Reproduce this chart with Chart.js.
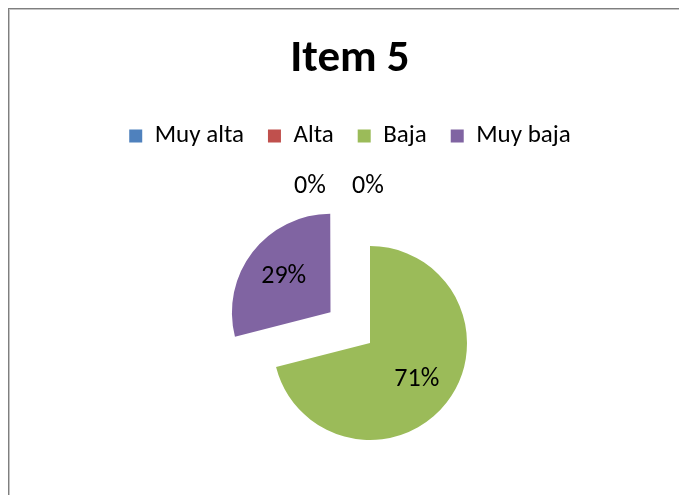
<!DOCTYPE html>
<html lang="es">
<head>
    <meta charset="UTF-8">
    <script src="https://cdn.jsdelivr.net/npm/chart.js@4/dist/chart.umd.min.js"></script>
    <title>Item 5</title>
    <style>
        html, body { margin: 0; padding: 0; background: #fff; overflow: hidden; width: 679px; height: 495px; }
        .frame {
            position: absolute; left: 8px; top: 8px; width: 800px; height: 600px;
            border-top: 1px solid #7f7f7f; border-left: 1px solid #7f7f7f;
            box-shadow: inset 1px 1px 0 #c4c4c4;
        }
        #chart { position: absolute; left: 8px; top: 8px; }
    </style>
</head>
<body>
    <div class="frame"></div>
    <canvas id="chart" width="684" height="560"></canvas>

    <script>
const labels = ['Muy alta', 'Alta', 'Baja', 'Muy baja'];
const values = [0, 0, 71, 29];
const colors = ['#4F81BD', '#C0504D', '#9BBB59', '#8064A2'];
const explode = [0, 0, 0, 200];   // purple slice pulled out

const FONT = "Carlito, Lato, 'Open Sans', sans-serif";
const shiftX = 20;   // pie sits a bit right of the title centre

// shift pie and write the percent labels like excel does
const pieLabels = {
    id: 'pieLabels',
    beforeDatasetsDraw(chart) {
        chart.ctx.save();
        chart.ctx.translate(shiftX, 0);
    },
    afterDatasetsDraw(chart) {
        const ctx = chart.ctx;
        const meta = chart.getDatasetMeta(0);
        const total = values.reduce((a, b) => a + b, 0);
        ctx.font = '26px ' + FONT;
        ctx.fillStyle = '#000';
        ctx.textAlign = 'center';
        ctx.textBaseline = 'middle';
        let zeroIdx = 0;
        meta.data.forEach((arc, i) => {
            const pct = Math.round(values[i] / total * 100) + '%';
            const r = arc.outerRadius;
            if (values[i] === 0) {
                ctx.fillText(pct, arc.x - 60 + zeroIdx * 58, arc.y - r - 60);
                zeroIdx++;
                return;
            }
            const mid = (arc.startAngle + arc.endAngle) / 2;
            const d = (arc.options.offset || 0) / 4 + r * 0.61;
            ctx.fillText(pct, arc.x + Math.cos(mid) * d, arc.y + Math.sin(mid) * d);
        });
        ctx.restore();
    }
};

new Chart(document.getElementById('chart'), {
    type: 'pie',
    data: {
        labels: labels,
        datasets: [{
            data: values,
            backgroundColor: colors,
            borderWidth: 0,
            offset: explode,
            hoverOffset: 0
        }]
    },
    options: {
        responsive: false,
        animation: false,
        events: [],
        radius: 97,
        layout: { padding: { top: 0, bottom: 40.5, left: 0, right: 0 } },
        plugins: {
            title: {
                display: true,
                text: 'Item 5',
                color: '#000',
                font: { family: FONT, size: 45, weight: 'bold' },
                padding: { top: 24.5, bottom: 13 }
            },
            legend: {
                position: 'top',
                labels: {
                    color: '#000',
                    font: { family: FONT, size: 25 },
                    boxWidth: 13,
                    boxHeight: 13,
                    padding: 24
                }
            },
            tooltip: { enabled: false }
        }
    },
    plugins: [pieLabels]
});
    </script>
</body>
</html>
